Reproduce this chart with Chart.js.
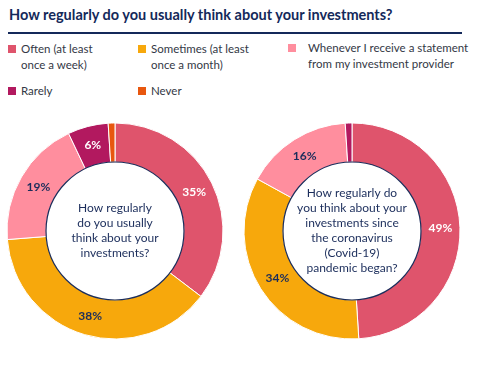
<!DOCTYPE html>
<html lang="en">

<head>
  <meta charset="UTF-8" />
  <title>Investment habits</title>
  <script src="https://cdn.jsdelivr.net/npm/chart.js@4.4.1/dist/chart.umd.min.js"></script>
  <style>
    body { margin: 0; background: #fff; font-family: Lato, "Open Sans", sans-serif; }
    .wrap { position: relative; width: 486px; height: 367px; }
    .title { position: absolute; left: 9px; top: 6px; font-size: 14.5px; font-weight: bold; color: #14295a; white-space: nowrap; }
    .rule { position: absolute; left: 8px; top: 32px; width: 454px; height: 2px; background: #14295a; }
    .leg { position: absolute; font-size: 11.5px; line-height: 16px; color: #333845; }
    .leg i { position: absolute; left: -13px; top: 4px; width: 8px; height: 8px; }
    canvas { position: absolute; }
  </style>
</head>

<body>
  <div class="wrap">
    <div class="title">How regularly do you usually think about your investments?</div>
    <div class="rule"></div>
    <div id="legend"></div>
    <canvas id="beforeChart" style="left:0px;top:111px;width:230px;height:240px"></canvas>
    <canvas id="sinceChart" style="left:237px;top:111px;width:230px;height:240px"></canvas>
  </div>

  <script>
    const categories = ["Often (at least once a week)", "Sometimes (at least once a month)",
      "Whenever I receive a statement from my investment provider", "Rarely", "Never"];
    const legendLines = [
      ["Often (at least", "once a week)"],
      ["Sometimes (at least", "once a month)"],
      ["Whenever I receive a statement", "from my investment provider"],
      ["Rarely"],
      ["Never"],
    ];
    const colors = ["#df546c", "#f7a80c", "#ff8e9e", "#b2195f", "#e8570f"];
    const labelColors = ["#ffffff", "#1b2d5b", "#1b2d5b", "#ffffff", "#ffffff"];
    const beforeValues = [35, 38, 19, 6, 1];
    const sinceValues = [49, 34, 16, 1, 0];
    const beforeQuestion = ["How regularly", "do you usually", "think about your", "investments?"];
    const sinceQuestion = ["How regularly do", "you think about your", "investments since",
      "the coronavirus", "(Covid-19)", "pandemic began?"];

    // legend (3 columns, 2 rows)
    const legPos = [[21, 41], [151, 41], [308, 40], [21, 83], [151, 83]];
    const legend = document.getElementById("legend");
    categories.forEach((c, i) => {
      const d = document.createElement("div");
      d.className = "leg";
      d.style.left = legPos[i][0] + "px";
      d.style.top = legPos[i][1] + "px";
      d.innerHTML = `<i style="background:${colors[i]};${i == 2 ? "left:-20px" : ""}"></i>` + legendLines[i].join("<br>");
      legend.appendChild(d);
    });

    const ringDecor = {
      id: "ringDecor",
      afterDatasetsDraw(chart, args, opts) {
        const ctx = chart.ctx;
        const meta = chart.getDatasetMeta(0);
        const arc0 = meta.data[0];
        const cx = arc0.x, cy = arc0.y;
        ctx.save();
        // percentage labels
        ctx.font = "bold 12px Lato";
        ctx.textAlign = "center";
        ctx.textBaseline = "middle";
        meta.data.forEach((arc, i) => {
          const v = chart.data.datasets[0].data[i];
          if (v < 5) return;
          const p = arc.tooltipPosition();
          ctx.fillStyle = labelColors[i];
          ctx.fillText(v + "%", p.x, p.y);
        });
        // navy inner circle
        ctx.beginPath();
        ctx.arc(cx, cy, 69, 0, Math.PI * 2);
        ctx.strokeStyle = "#1b2d5b";
        ctx.lineWidth = 1.2;
        ctx.stroke();
        // question text
        ctx.font = "12px Lato";
        ctx.fillStyle = "#1b2d5b";
        const lines = opts.lines;
        const lh = 15;
        lines.forEach((t, i) => {
          ctx.fillText(t, cx, cy + (i - (lines.length - 1) / 2) * lh);
        });
        ctx.restore();
      }
    };

    function donutGen(values, lines) {
      return {
        type: "doughnut",
        data: {
          labels: categories,
          datasets: [{
            data: values,
            backgroundColor: colors,
            borderColor: "#ffffff",
            borderWidth: 1,
          }],
        },
        options: {
          responsive: false,
          animation: false,
          radius: 108,
          cutout: 73,
          layout: { padding: 0 },
          plugins: {
            legend: { display: false },
            tooltip: { enabled: false },
            ringDecor: { lines: lines },
          },
        },
        plugins: [ringDecor],
      };
    }

    function makeChart(id, values, lines) {
      const cv = document.getElementById(id);
      cv.width = 230;
      cv.height = 240;
      return new Chart(cv.getContext("2d"), donutGen(values, lines));
    }

    const beforeChart = makeChart("beforeChart", beforeValues, beforeQuestion);
    const sinceChart = makeChart("sinceChart", sinceValues, sinceQuestion);
  </script>
</body>

</html>
